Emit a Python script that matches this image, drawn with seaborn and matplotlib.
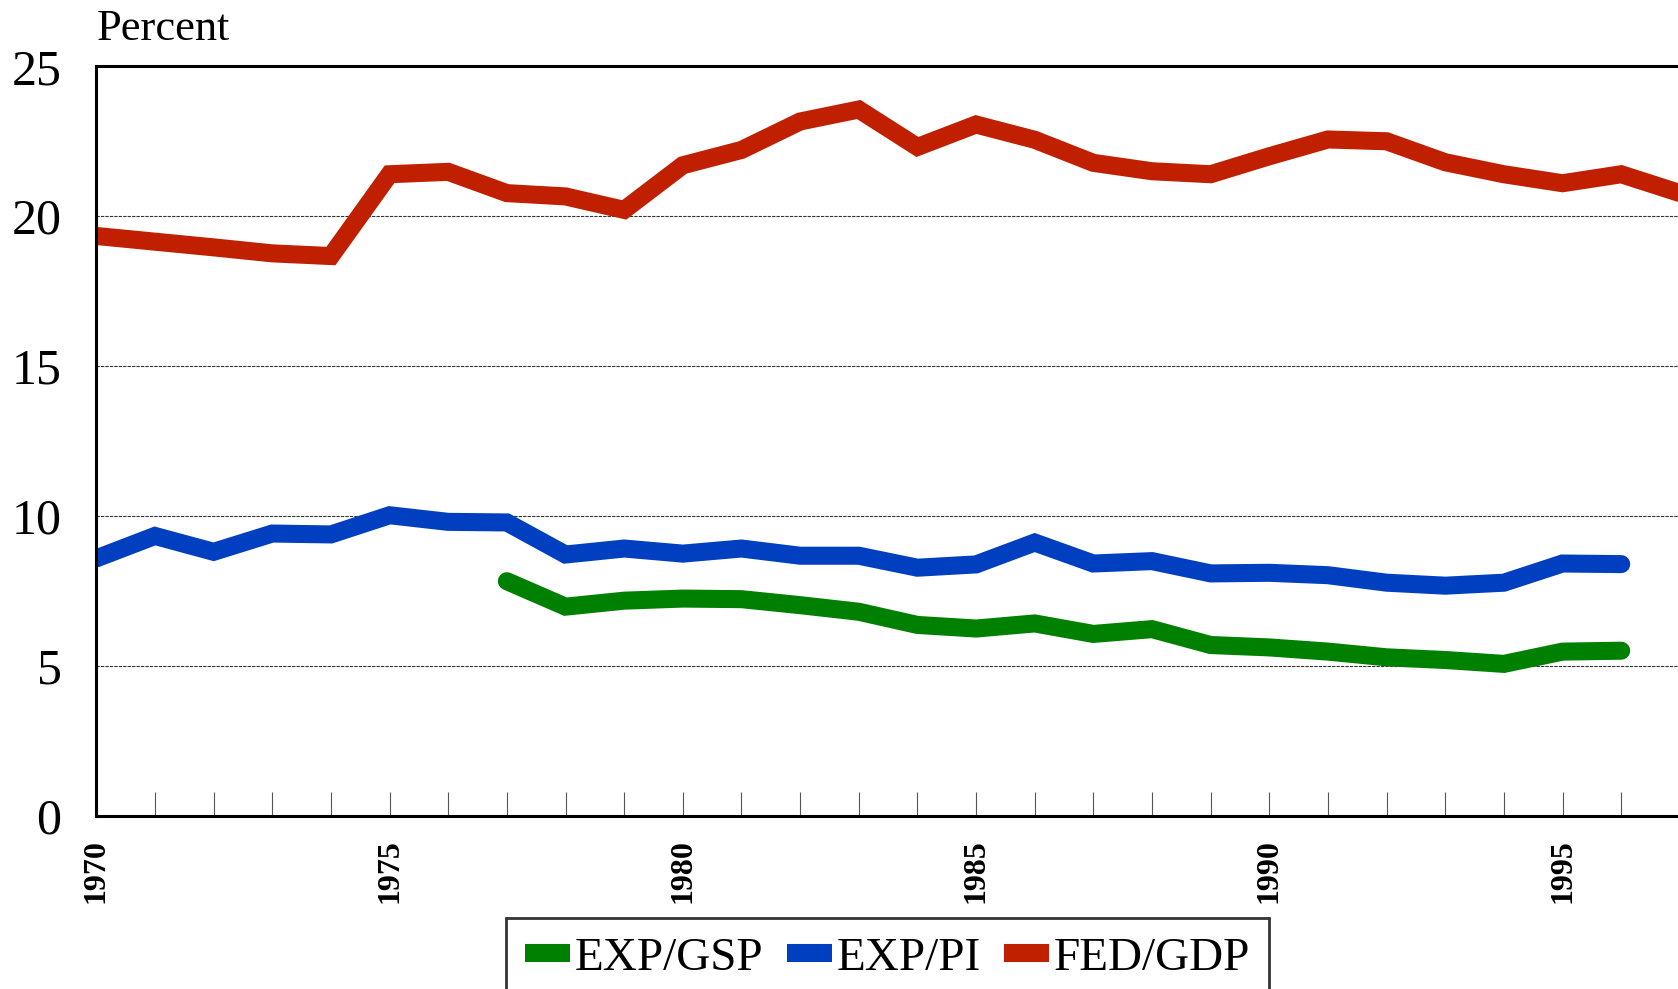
import pandas as pd
import matplotlib.pyplot as plt
import seaborn as sns
from matplotlib.lines import Line2D
from matplotlib.ticker import MultipleLocator

# Dados (percentual)
anos = list(range(1970, 1998))
fed_gdp = [19.34, 19.15, 18.96, 18.76, 18.67, 21.40, 21.48, 20.77, 20.66, 20.21,
           21.70, 22.21, 23.16, 23.56, 22.31, 23.06, 22.55, 21.78, 21.50, 21.40,
           22.00, 22.56, 22.50, 21.80, 21.40, 21.10, 21.40, 20.77]
exp_pi = [8.58, 9.33, 8.80, 9.41, 9.38, 10.02, 9.80, 9.78, 8.71, 8.91,
          8.74, 8.91, 8.67, 8.67, 8.27, 8.38, 9.11, 8.41, 8.49, 8.08,
          8.10, 8.02, 7.77, 7.67, 7.77, 8.41, 8.39]
exp_gsp = [7.82, 6.97, 7.17, 7.24, 7.22, 7.02, 6.80, 6.36, 6.24, 6.41,
           6.06, 6.22, 5.69, 5.61, 5.47, 5.28, 5.19, 5.06, 5.47, 5.50]
nomes = ['EXP/GSP', 'EXP/PI', 'FED/GDP']
cores = ['#008000', '#0040C0', '#C02000']

df_fed = pd.DataFrame({'ano': anos, 'valor': fed_gdp})
df_pi = pd.DataFrame({'ano': anos[:len(exp_pi)], 'valor': exp_pi})
df_gsp = pd.DataFrame({'ano': anos[7:7 + len(exp_gsp)], 'valor': exp_gsp})

sns.set_style('white')
plt.rcParams['font.family'] = ['Liberation Serif', 'DejaVu Serif']
plt.rcParams['text.color'] = 'black'
plt.rcParams['xtick.color'] = 'black'
plt.rcParams['ytick.color'] = 'black'

fig = plt.figure(figsize=(16.78, 9.89), dpi=100)
ax = fig.add_axes([0.0574, 0.1754, 0.9437, 0.7575])

for dados, cor in zip([df_gsp, df_pi, df_fed], cores):
    sns.lineplot(x='ano', y='valor', data=dados, ax=ax, color=cor, linewidth=13,
                 solid_capstyle='round', solid_joinstyle='miter', legend=False)

ax.set_xlim(1970, 1997)
ax.set_ylim(0, 25)
ax.set_xlabel('')
ax.set_ylabel('')

# grade horizontal tracejada
for y in [5, 10, 15, 20]:
    ax.axhline(y, color='#333333', linestyle=(0, (3, 1)), linewidth=0.8, zorder=0)

ax.set_yticks([0, 5, 10, 15, 20, 25])
ax.tick_params(axis='y', left=False, length=0, pad=25, labelsize=36, labelcolor='black')
ax.xaxis.set_major_locator(MultipleLocator(5))
ax.xaxis.set_minor_locator(MultipleLocator(1))
ax.tick_params(axis='x', which='both', bottom=True, direction='in', length=17, width=0.8,
               color='#555555', pad=17, labelsize=23, labelrotation=90, labelcolor='black')
for lbl in ax.get_xticklabels():
    lbl.set_fontweight('bold')
    lbl.set_va('top')

for lado in ['left', 'top', 'bottom']:
    ax.spines[lado].set_color('black')
    ax.spines[lado].set_linewidth(2.2)
ax.spines['right'].set_visible(False)

fig.text(0.0574, 0.9596, 'Percent', fontsize=32, va='baseline', ha='left', color='black')

handles = [Line2D([0], [0], color=c, linewidth=13, solid_capstyle='butt') for c in cores]
leg = fig.legend(handles, nomes, loc='upper center', bbox_to_anchor=(0.529, 0.072),
                 ncol=3, fontsize=34, frameon=True, fancybox=False, handlelength=0.95,
                 handletextpad=0.1, columnspacing=0.5, borderpad=0.4, borderaxespad=0,
                 labelcolor='black')
leg.get_frame().set_edgecolor('black')
leg.get_frame().set_linewidth(2)

fig.savefig('out.png', dpi=100)
